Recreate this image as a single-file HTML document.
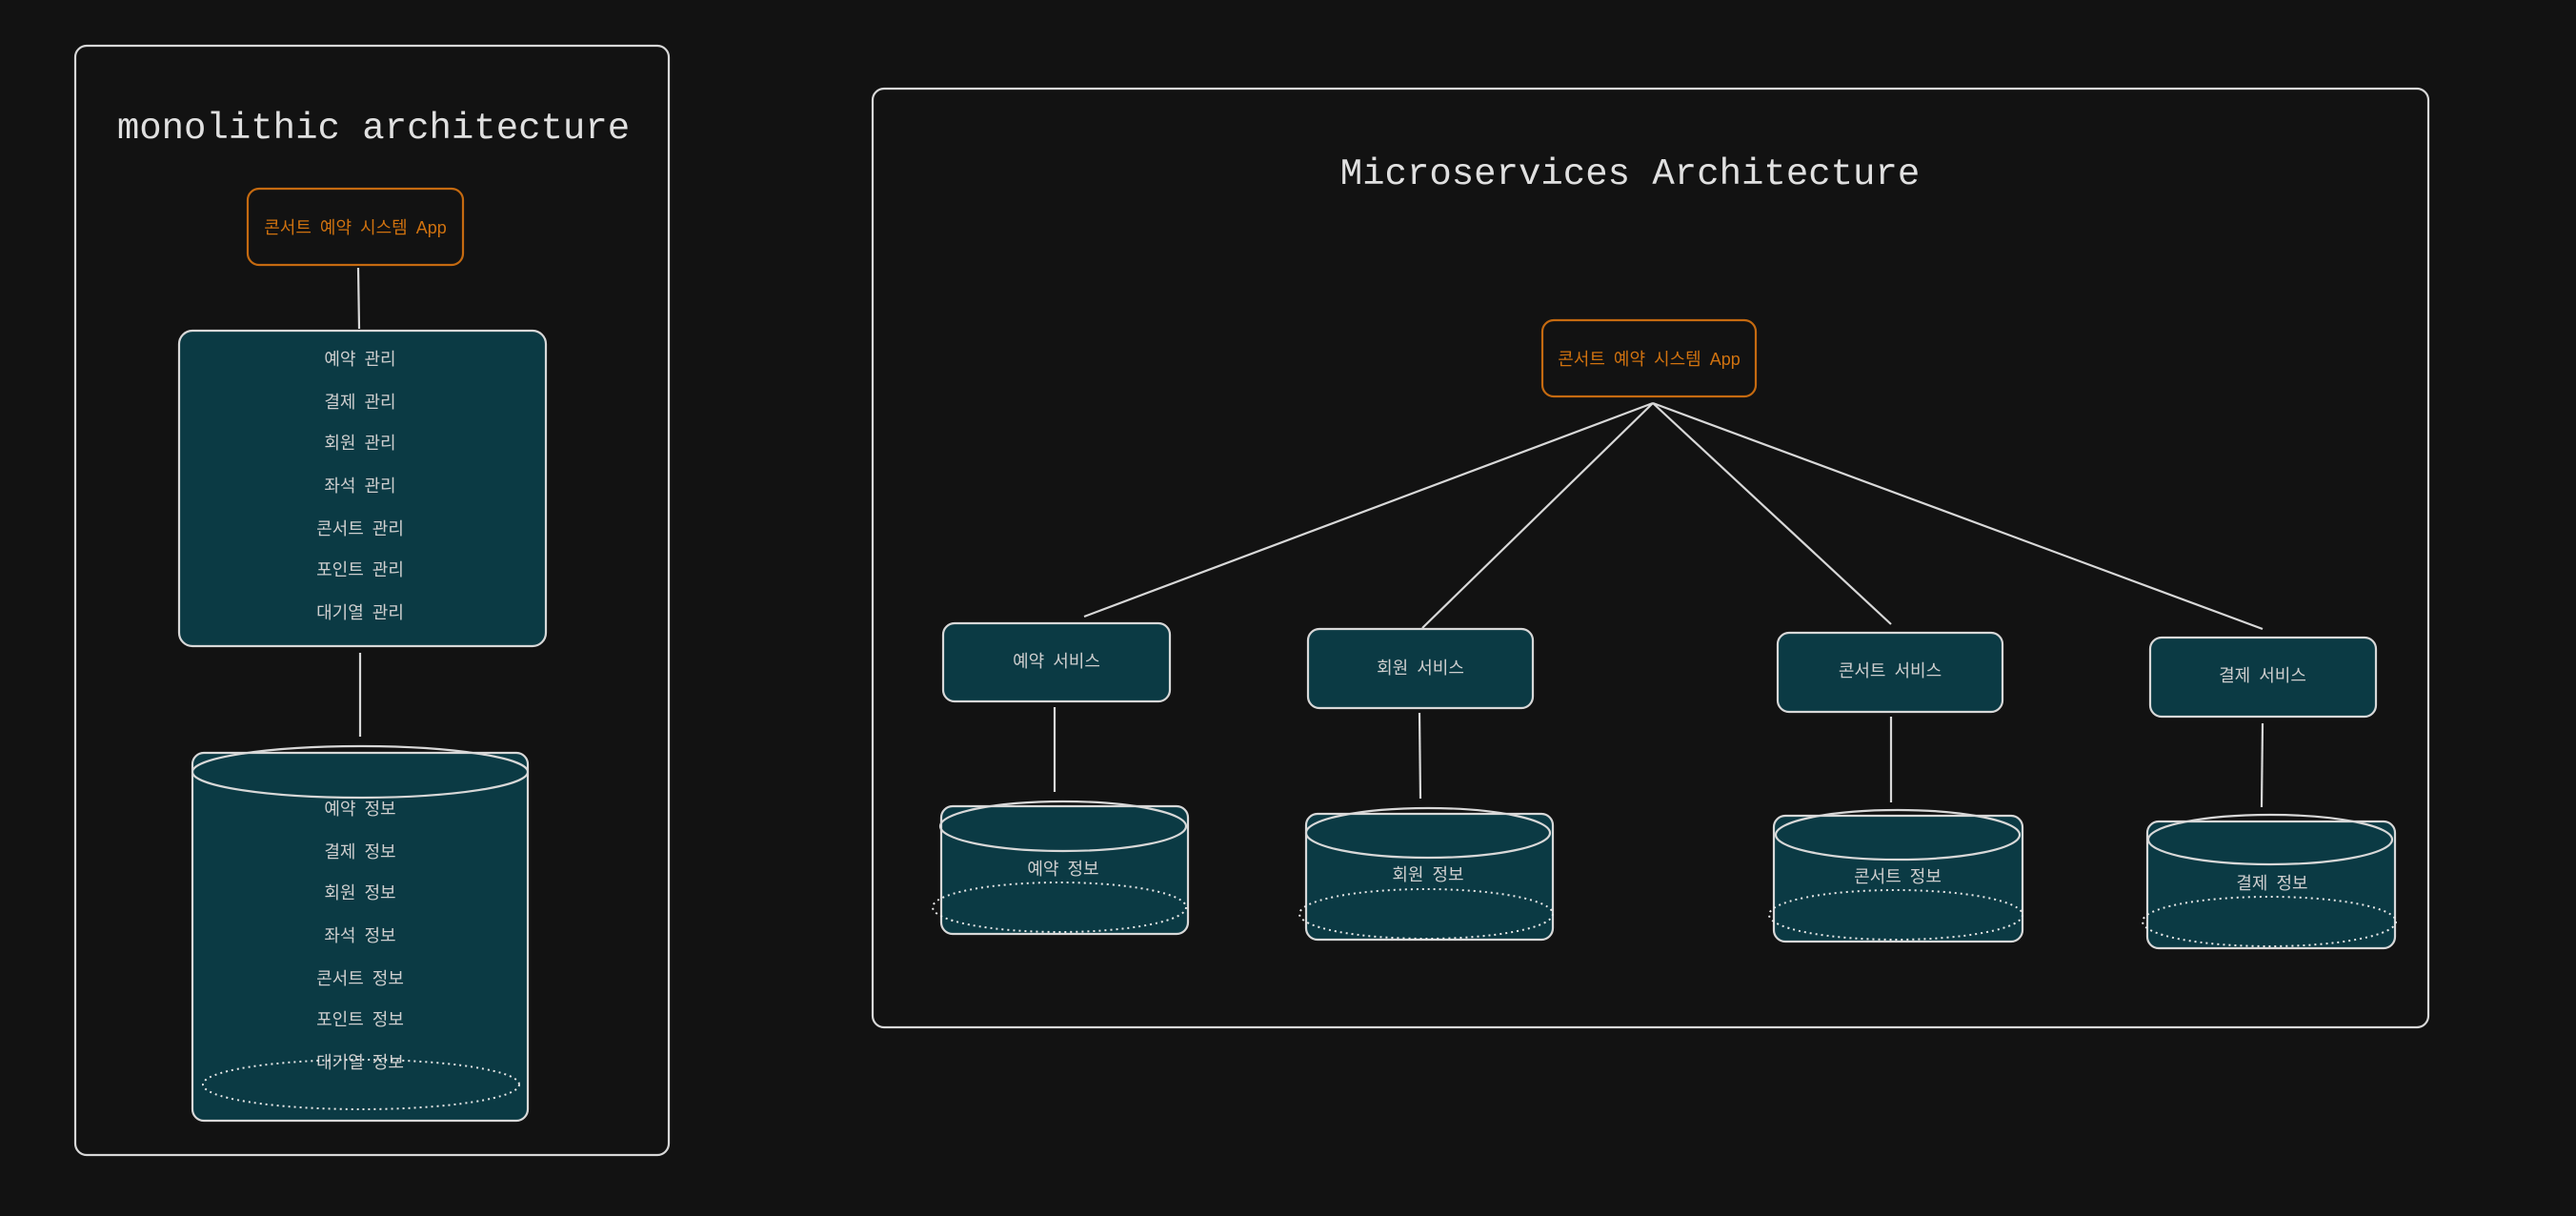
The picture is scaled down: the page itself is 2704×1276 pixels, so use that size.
<!DOCTYPE html>
<html><head><meta charset="utf-8"><style>
html,body{margin:0;padding:0;background:#121212;}
svg{display:block}
text{font-family:"Liberation Sans","Noto Sans CJK KR",sans-serif;}
.t{font-family:"Liberation Mono","Noto Sans CJK KR",monospace;fill:#e0e0e0;font-size:39px;text-anchor:middle;}
.l{fill:#cfcfcf;font-size:18px;text-anchor:middle;dominant-baseline:middle;word-spacing:4px;}
.o{fill:#d0720f;font-size:18px;text-anchor:middle;dominant-baseline:middle;word-spacing:4px;}
.s{stroke:#d8d8d8;stroke-width:2.2;fill:none;}
.b{stroke:#d8d8d8;stroke-width:2.2;fill:#0b3a44;}
.ob{stroke:#c56a10;stroke-width:2.2;fill:none;}
.d{stroke:#e8e8e8;stroke-width:2;fill:none;stroke-dasharray:2 4;}
</style></head><body>
<svg width="2704" height="1276" viewBox="0 0 2704 1276">
<rect class="s" x="79" y="48" width="623" height="1164" rx="12"/>
<text class="t" x="392" y="145">monolithic architecture</text>
<rect class="ob" x="260" y="198" width="226" height="80" rx="12"/>
<text class="o" x="373" y="240">콘서트 예약 시스템 App</text>
<line class="s" x1="376" y1="281" x2="377" y2="345"/>
<rect class="b" x="188" y="347" width="385" height="331" rx="14"/>
<text class="l" x="378" y="378">예약 관리</text>
<text class="l" x="378" y="423">결제 관리</text>
<text class="l" x="378" y="466">회원 관리</text>
<text class="l" x="378" y="511">좌석 관리</text>
<text class="l" x="378" y="556">콘서트 관리</text>
<text class="l" x="378" y="599">포인트 관리</text>
<text class="l" x="378" y="644">대기열 관리</text>
<line class="s" x1="378" y1="685" x2="378" y2="773"/>
<rect class="b" x="202" y="790" width="352" height="386" rx="12"/>
<ellipse class="s" cx="378" cy="810" rx="176" ry="27"/>
<text class="l" x="378" y="850">예약 정보</text>
<text class="l" x="378" y="895">결제 정보</text>
<text class="l" x="378" y="938">회원 정보</text>
<text class="l" x="378" y="983">좌석 정보</text>
<text class="l" x="378" y="1028">콘서트 정보</text>
<text class="l" x="378" y="1071">포인트 정보</text>
<text class="l" x="378" y="1116">대기열 정보</text>
<ellipse class="d" cx="379" cy="1138" rx="166" ry="26"/>

<rect class="s" x="916" y="93" width="1633" height="985" rx="12"/>
<text class="t" x="1711" y="193">Microservices Architecture</text>
<rect class="ob" x="1619" y="336" width="224" height="80" rx="12"/>
<text class="o" x="1731" y="378">콘서트 예약 시스템 App</text>
<line class="s" x1="1735" y1="423" x2="1138" y2="647"/>
<line class="s" x1="1735" y1="423" x2="1493" y2="659"/>
<line class="s" x1="1735" y1="423" x2="1985" y2="655"/>
<line class="s" x1="1735" y1="423" x2="2375" y2="660"/>

<rect class="b" x="990" y="654" width="238" height="82" rx="12"/>
<text class="l" x="1109" y="695">예약 서비스</text>
<line class="s" x1="1107" y1="742" x2="1107" y2="831"/>
<rect class="b" x="988" y="846" width="259" height="134" rx="12"/>
<ellipse class="s" cx="1116" cy="867" rx="129" ry="26"/>
<text class="l" x="1116" y="913">예약 정보</text>
<ellipse class="d" cx="1112" cy="952" rx="133" ry="26"/>

<rect class="b" x="1373" y="660" width="236" height="83" rx="12"/>
<text class="l" x="1491" y="702">회원 서비스</text>
<line class="s" x1="1490" y1="748" x2="1491" y2="838"/>
<rect class="b" x="1371" y="854" width="259" height="132" rx="12"/>
<ellipse class="s" cx="1499" cy="874" rx="128" ry="26"/>
<text class="l" x="1499" y="919">회원 정보</text>
<ellipse class="d" cx="1497" cy="959" rx="133" ry="26"/>

<rect class="b" x="1866" y="664" width="236" height="83" rx="12"/>
<text class="l" x="1984" y="705">콘서트 서비스</text>
<line class="s" x1="1985" y1="752" x2="1985" y2="842"/>
<rect class="b" x="1862" y="856" width="261" height="132" rx="12"/>
<ellipse class="s" cx="1992" cy="876" rx="128" ry="26"/>
<text class="l" x="1992" y="921">콘서트 정보</text>
<ellipse class="d" cx="1990" cy="960" rx="133" ry="26"/>

<rect class="b" x="2257" y="669" width="237" height="83" rx="12"/>
<text class="l" x="2375" y="710">결제 서비스</text>
<line class="s" x1="2375" y1="759" x2="2374" y2="847"/>
<rect class="b" x="2254" y="862" width="260" height="133" rx="12"/>
<ellipse class="s" cx="2383" cy="881" rx="128" ry="26"/>
<text class="l" x="2385" y="928">결제 정보</text>
<ellipse class="d" cx="2382" cy="967" rx="133" ry="26"/>
</svg>
</body></html>
